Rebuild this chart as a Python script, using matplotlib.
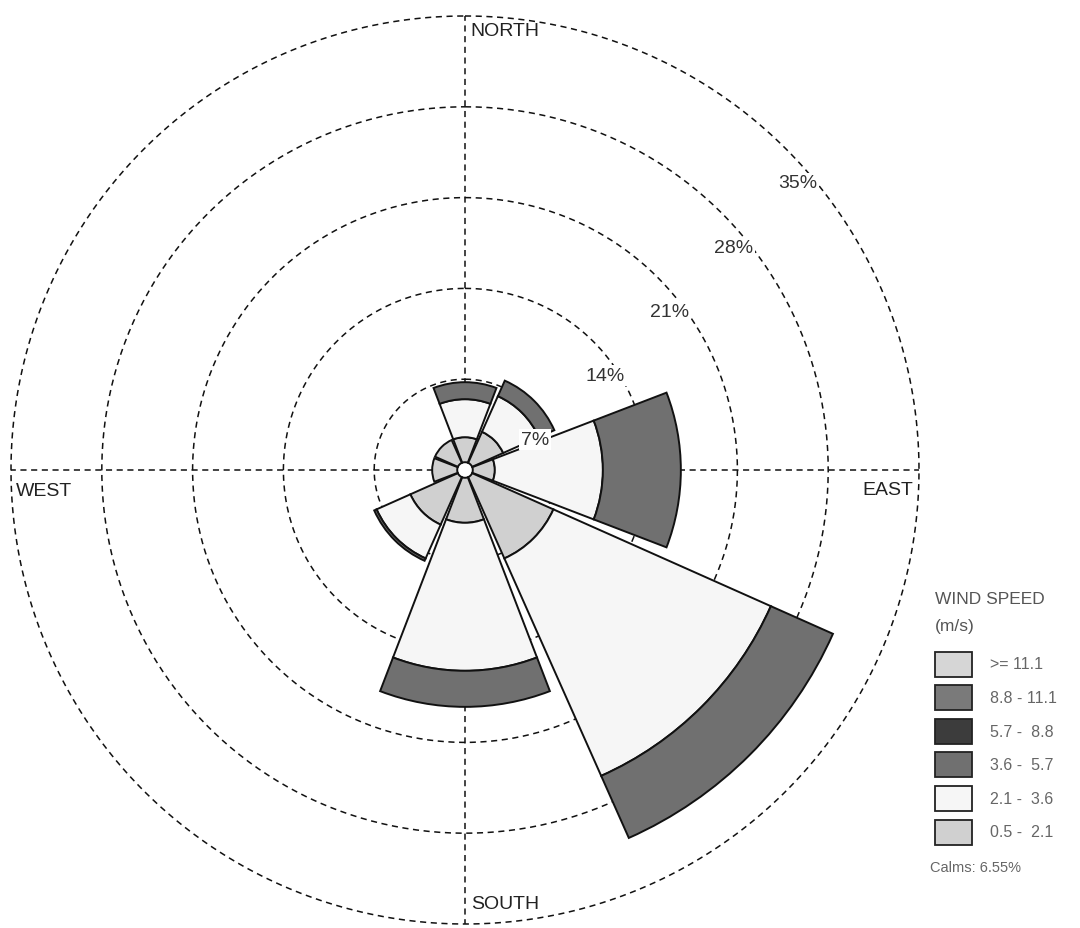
import numpy as np
import matplotlib
matplotlib.use("Agg")
from matplotlib import pyplot as plt
from matplotlib.patches import Rectangle

plt.rcParams['font.family'] = ['Liberation Sans', 'DejaVu Sans']

# direction sectors (degrees, clockwise from north)
directions = [0, 45, 90, 135, 180, 225, 270, 315]
# frequency (%) per speed class, innermost class first
freq_05_21 = [1.93, 2.62, 1.70, 6.86, 3.47, 4.01, 1.93, 1.93]
freq_21_36 = [2.93, 3.01, 8.33, 18.35, 11.41, 2.85, 0.0, 0.0]
freq_36_57 = [1.31, 1.31, 6.01, 5.24, 2.78, 0.20, 0.0, 0.0]

speed_labels = [">= 11.1", "8.8 - 11.1", "5.7 -  8.8", "3.6 -  5.7", "2.1 -  3.6", "0.5 -  2.1"]
speed_colors = ["#d6d6d6", "#7a7a7a", "#3c3c3c", "#707070", "#f6f6f6", "#d0d0d0"]
ring_values = [7, 14, 21, 28, 35]
calms = 6.55
hole = 0.6

fig = plt.figure(figsize=(10.8, 9.29), dpi=100)
ax = fig.add_axes([11 / 1080, 4 / 929, 908 / 1080, 908 / 929], projection='polar')
ax.set_theta_zero_location('N')
ax.set_theta_direction(-1)
ax.set_ylim(0, 35)
ax.axis('off')

dash = (0, (4, 3))
th = np.linspace(0, 2 * np.pi, 400)
for r in ring_values:
    ax.plot(th, np.full_like(th, r), color='#111111', lw=1.1, ls=dash, zorder=1, clip_on=False)
for a in [0, 90, 180, 270]:
    ax.plot([np.radians(a)] * 2, [0, 35], color='#111111', lw=1.1, ls=dash, zorder=1, clip_on=False)

# white calm hole in the middle
ax.fill_between(th, 0, hole, color='white', zorder=2, lw=0)

theta = np.radians(directions)
width = np.radians(42)
bottom = np.full(len(directions), hole)
layers = [(freq_05_21, speed_colors[5]), (freq_21_36, speed_colors[4]), (freq_36_57, speed_colors[3])]
for vals, col in layers:
    vals = np.array(vals)
    m = vals > 0
    ax.bar(theta[m], vals[m], width=width, bottom=bottom[m], color=col,
           edgecolor='#111111', linewidth=1.4, zorder=3)
    bottom = bottom + vals

# ring labels
for r in ring_values:
    ax.annotate(f"{r}%", xy=(np.radians(45), r), xytext=(-8, -34), textcoords='offset pixels',
                ha='left', va='center', fontsize=14, color='#333333', zorder=5,
                bbox=dict(boxstyle='square,pad=0.1', fc='white', ec='none'))

# compass labels
kw = dict(textcoords='offset pixels', fontsize=14, color='#222222', zorder=5)
ax.annotate("NORTH", xy=(0, 35), xytext=(5, -15), ha='left', va='center', **kw)
ax.annotate("SOUTH", xy=(np.pi, 35), xytext=(6, 20), ha='left', va='center', **kw)
ax.annotate("WEST", xy=(np.radians(270), 35), xytext=(5, -20), ha='left', va='center', **kw)
ax.annotate("EAST", xy=(np.radians(90), 35), xytext=(-6, -20), ha='right', va='center', **kw)

# legend
H = 929
fig.text(935 / 1080, 1 - 600 / H, "WIND SPEED", fontsize=12.5, color='#555555', va='center', ha='left')
fig.text(935 / 1080, 1 - 627 / H, "(m/s)", fontsize=12.5, color='#555555', va='center', ha='left')
for i, (lab, col) in enumerate(zip(speed_labels, speed_colors)):
    yc = 665 + i * 33.6
    fig.patches.append(Rectangle((935 / 1080, 1 - (yc + 12.5) / H), 37 / 1080, 25 / H,
                                 transform=fig.transFigure, fc=col, ec='#222222', lw=1.3))
    fig.text(990 / 1080, 1 - yc / H, lab, fontsize=11.5, color='#666666', va='center', ha='left')
fig.text(930 / 1080, 1 - 868 / H, f"Calms: {calms:.2f}%", fontsize=10.5, color='#666666', va='center', ha='left')

fig.savefig("out.png", dpi=100, facecolor='white')
